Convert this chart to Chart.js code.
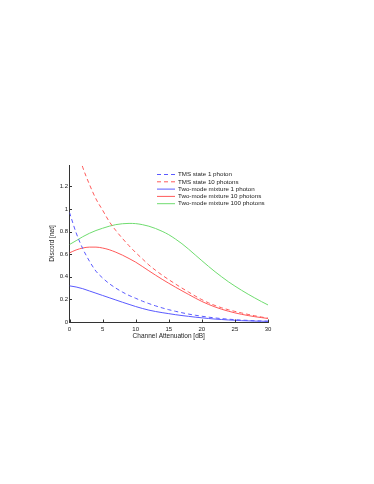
<!DOCTYPE html>
<html>
<head>
<meta charset="utf-8">
<script src="https://cdn.jsdelivr.net/npm/chart.js@4/dist/chart.umd.min.js"></script>
<style>
html,body{margin:0;padding:0;background:#fff;}
#wrap{position:absolute;left:0;top:0;width:374px;height:484px;}
</style>
</head>
<body>
<div id="wrap"><canvas id="c" width="374" height="484"></canvas></div>
<script>
const attenuation = [0,1,2,3,4,5,6,7,8,9,10,11,12,13,14,15,16,17,18,19,20,21,22,23,24,25,26,27,28,29,30];
const tms1 = [0.97,0.79,0.65,0.54,0.45,0.39,0.34,0.30,0.265,0.235,0.21,0.185,0.163,0.143,0.125,0.109,0.095,0.082,0.07,0.06,0.051,0.043,0.036,0.03,0.025,0.021,0.017,0.014,0.011,0.009,0.007];
const tms10 = [null,1.56,1.37,1.22,1.09,0.99,0.89,0.81,0.74,0.675,0.615,0.56,0.505,0.458,0.415,0.375,0.337,0.3,0.265,0.23,0.198,0.17,0.146,0.126,0.109,0.094,0.08,0.067,0.055,0.044,0.034];
const mix1 = [0.32,0.31,0.295,0.275,0.255,0.235,0.215,0.195,0.175,0.156,0.137,0.12,0.105,0.093,0.083,0.074,0.065,0.057,0.05,0.043,0.037,0.031,0.026,0.022,0.018,0.015,0.012,0.01,0.008,0.007,0.006];
const mix10 = [0.612,0.638,0.655,0.663,0.663,0.655,0.64,0.618,0.592,0.562,0.53,0.492,0.453,0.415,0.378,0.343,0.309,0.276,0.244,0.212,0.182,0.156,0.133,0.113,0.096,0.081,0.068,0.057,0.047,0.039,0.031];
const mix100 = [0.686,0.72,0.755,0.785,0.81,0.83,0.848,0.862,0.87,0.873,0.871,0.862,0.848,0.828,0.803,0.773,0.735,0.693,0.645,0.594,0.543,0.493,0.445,0.4,0.357,0.318,0.281,0.246,0.213,0.181,0.151];
const seriesLabels = ["TMS state 1 photon","TMS state 10 photons","Two-mode mixture 1 photon","Two-mode mixture 10 photons","Two-mode mixture 100 photons"];
const xTicks = [0,5,10,15,20,25,30];
const yTicks = [0,0.2,0.4,0.6,0.8,1,1.2];

const FONT = "'Liberation Sans', Arial, sans-serif";
function pts(arr){ return attenuation.map((x,i)=>({x:x,y:arr[i]})); }
const styles = [
  {c:'#5a5aff', dash:[4,3]},
  {c:'#ff5a5a', dash:[4,3]},
  {c:'#5a5aff', dash:[]},
  {c:'#ff5a5a', dash:[]},
  {c:'#6fdc6f', dash:[]}
];
const seriesData = [tms1,tms10,mix1,mix10,mix100];
const datasets = seriesData.map((d,i)=>({
  label: seriesLabels[i],
  data: pts(d),
  borderColor: styles[i].c,
  borderDash: styles[i].dash,
  borderWidth: 1,
  pointRadius: 0,
  fill: false,
  spanGaps: false,
  cubicInterpolationMode: 'monotone'
}));

const legendPlugin = {
  id: 'customLegend',
  afterDraw(chart){
    const ctx = chart.ctx;
    ctx.save();
    ctx.font = '6.2px ' + FONT;
    ctx.textBaseline = 'middle';
    ctx.textAlign = 'left';
    const x0 = 157, x1 = 175, tx = 178;
    let y = 174;
    chart.data.datasets.forEach((ds)=>{
      ctx.strokeStyle = ds.borderColor;
      ctx.lineWidth = 1;
      ctx.setLineDash(ds.borderDash);
      ctx.beginPath(); ctx.moveTo(x0, y+0.5); ctx.lineTo(x1, y+0.5); ctx.stroke();
      ctx.setLineDash([]);
      ctx.fillStyle = '#222';
      ctx.fillText(ds.label, tx, y+0.5);
      y += 7.3;
    });
    // inward tick marks
    const xs = chart.scales.x, ys = chart.scales.y, a = chart.chartArea;
    ctx.strokeStyle = '#333';
    ctx.lineWidth = 1;
    ctx.beginPath();
    xTicks.forEach(v=>{ const p = Math.round(xs.getPixelForValue(v))+0.5; ctx.moveTo(p, a.bottom); ctx.lineTo(p, a.bottom-2.5); });
    yTicks.forEach(v=>{ const p = Math.round(ys.getPixelForValue(v))+0.5; ctx.moveTo(a.left, p); ctx.lineTo(a.left+2.5, p); });
    ctx.stroke();
    ctx.restore();
  }
};

new Chart(document.getElementById('c'), {
  type: 'line',
  data: { datasets },
  options: {
    responsive: false,
    animation: false,
    events: [],
    layout: { padding: { left: 48, right: 106, top: 165, bottom: 144 } },
    plugins: { legend: { display: false }, tooltip: { enabled: false } },
    scales: {
      x: {
        type: 'linear', min: 0, max: 30,
        afterFit(s){ s.height = 18; },
        afterBuildTicks(s){ s.ticks = xTicks.map(v=>({value:v})); },
        grid: { display: true, drawOnChartArea: false, drawTicks: false, color: '#333' },
        border: { display: true, color: '#333', width: 1 },
        ticks: { font: { family: FONT, size: 6 }, color: '#222', padding: 3.5, maxRotation: 0, callback: v => String(v) },
        title: { display: true, text: 'Channel Attenuation [dB]', font: { family: FONT, size: 6.5 }, color: '#222', padding: { top: 0, bottom: 0 } }
      },
      y: {
        type: 'linear', min: 0, max: 1.39,
        afterFit(s){ s.width = 21.5; },
        afterBuildTicks(s){ s.ticks = yTicks.map(v=>({value:v})); },
        grid: { display: true, drawOnChartArea: false, drawTicks: false, color: '#333' },
        border: { display: true, color: '#333', width: 1 },
        ticks: { font: { family: FONT, size: 6 }, color: '#222', padding: 1.5, includeBounds: false, callback: v => String(v) },
        title: { display: true, text: 'Discord [nat]', font: { family: FONT, size: 6.5 }, color: '#222', padding: { top: 0, bottom: 0 } }
      }
    }
  },
  plugins: [legendPlugin]
});
</script>
</body>
</html>
